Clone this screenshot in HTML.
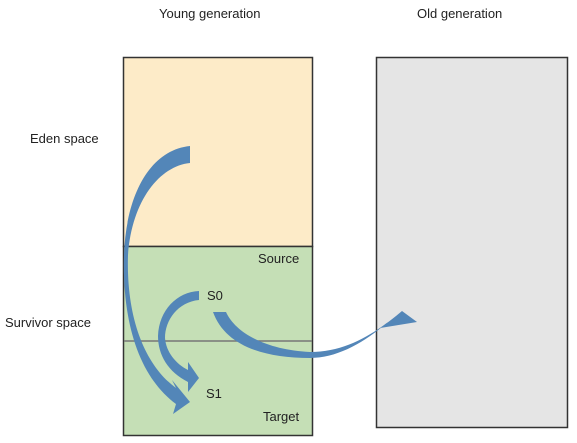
<!DOCTYPE html>
<html><head><style>
body{margin:0;background:#fff;width:577px;height:438px;overflow:hidden;font-family:"Liberation Sans",sans-serif;}
</style></head><body>
<svg width="577" height="438" xmlns="http://www.w3.org/2000/svg" font-family="Liberation Sans, sans-serif" font-size="13" fill="#222">
<rect x="123.5" y="57.5" width="189" height="189" fill="#fdebc8" stroke="#333" stroke-width="1.5"/>
<rect x="123.5" y="246.5" width="189" height="189" fill="#c5dfb6" stroke="#333" stroke-width="1.5"/>
<line x1="124" y1="341" x2="312" y2="341" stroke="#777" stroke-width="1.5"/>
<rect x="376.5" y="57.5" width="191" height="370" fill="#e5e5e5" stroke="#333" stroke-width="1.5"/>
<text x="159" y="18">Young generation</text>
<text x="417" y="18">Old generation</text>
<text x="30" y="143">Eden space</text>
<text x="5" y="327">Survivor space</text>
<text x="258" y="263">Source</text>
<text x="263" y="421">Target</text>
<text x="207" y="300">S0</text>
<text x="206" y="398">S1</text>
<g fill="#5386b8">
<path d="M190,146 L190,163 C160,166 132,200 128,255 C126,320 146,366 176,388 L172,380 L190,402 L173,414 L176,404 C138,376 122,320 124,255 C126,195 150,150 190,146 Z"/>
<path d="M199,291 L199,300 C178,302 165,320 165,338 C166,352 176,364 188,370 L188,362 L199,378 L188,392 L188,382 C168,372 158,355 158,336 C159,310 177,292 199,291 Z"/>
<path d="M213,312 L226,312 C236,334 268,350 310,352 C345,352 372,335 396,316 L402,311 L417,322 L380,328 L388,322 C365,342 338,358 310,358 C262,358 225,345 213,312 Z"/>
</g>
</svg>
</body></html>
